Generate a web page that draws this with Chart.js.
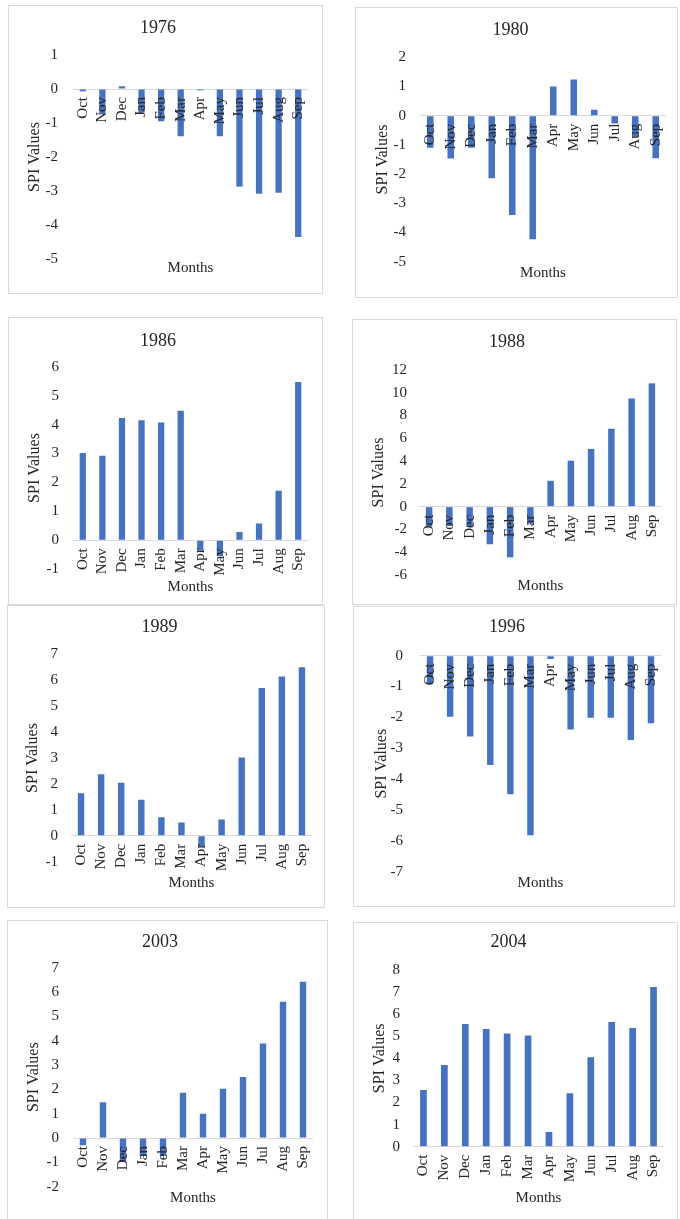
<!DOCTYPE html>
<html>
<head>
<meta charset="utf-8">
<script src="https://cdn.jsdelivr.net/npm/chart.js@4"></script>
<style>
  html, body { margin: 0; padding: 0; background: #fff; overflow: hidden; }
  body { width: 680px; height: 1219px; position: relative; }
  .box { position: absolute; border: 1px solid #d9d9d9; box-sizing: border-box; pointer-events: none; }
  canvas { position: absolute; }
</style>
</head>
<body>
<script>
const months = ['Oct', 'Nov', 'Dec', 'Jan', 'Feb', 'Mar', 'Apr', 'May', 'Jun', 'Jul', 'Aug', 'Sep'];
const years = ['1976', '1980', '1986', '1988', '1989', '1996', '2003', '2004'];

const spi1976 = [-0.07, -0.72, 0.08, -0.7, -0.95, -1.39, -0.04, -1.39, -2.87, -3.08, -3.05, -4.35];
const spi1980 = [-1.1, -1.47, -1.1, -2.14, -3.4, -4.23, 1.0, 1.24, 0.2, -0.27, -0.72, -1.46];
const spi1986 = [3.02, 2.92, 4.23, 4.15, 4.07, 4.48, -0.35, -0.55, 0.29, 0.58, 1.71, 5.47];
const spi1988 = [-1.75, -1.7, -1.8, -3.3, -4.45, -1.5, 2.27, 4.04, 5.07, 6.84, 9.5, 10.83];
const spi1989 = [1.64, 2.37, 2.05, 1.39, 0.71, 0.51, -0.41, 0.63, 3.02, 5.7, 6.14, 6.5];
const spi1996 = [-0.9, -1.98, -2.62, -3.54, -4.49, -5.82, -0.11, -2.39, -2.01, -2.01, -2.73, -2.19];
const spi2003 = [-0.3, 1.47, -0.99, -0.74, -0.74, 1.86, 1.0, 2.03, 2.51, 3.88, 5.6, 6.42];
const spi2004 = [2.57, 3.7, 5.55, 5.33, 5.13, 5.04, 0.66, 2.42, 4.05, 5.65, 5.37, 7.23];
const series = [spi1976, spi1980, spi1986, spi1988, spi1989, spi1996, spi2003, spi2004];

// y axis ticks per panel
const yMin = [-5, -5, -1, -6, -1, -7, -2, 0];
const yMax = [1, 2, 6, 12, 7, 0, 7, 8];
const yStep = [1, 1, 1, 2, 1, 1, 1, 1];

// page positions of each panel: box, plot area, and where the texts sit
const frames = [
  { box: [8, 5, 323, 294], plot: [73, 55, 308, 259], title: 28, tickRight: 58, spiX: 35, monthsY: 268 },
  { box: [355, 7, 678, 298], plot: [420, 57.3, 666, 261.7], title: 30, tickRight: 406, spiX: 383, monthsY: 273 },
  { box: [8, 317, 323, 605], plot: [73, 366.7, 308, 569.3], title: 341, tickRight: 59, spiX: 35, monthsY: 587 },
  { box: [352, 319, 677, 605], plot: [419, 370, 662, 575], title: 342, tickRight: 407, spiX: 379, monthsY: 586 },
  { box: [7, 605, 325, 908], plot: [71, 654.3, 312, 861.7], title: 627, tickRight: 58, spiX: 33, monthsY: 883 },
  { box: [353, 606, 675, 907], plot: [420, 655.7, 661, 871.7], title: 627, tickRight: 403, spiX: 382, monthsY: 883 },
  { box: [7, 920, 328, 1225], plot: [73, 967.7, 313, 1186.7], title: 942, tickRight: 59, spiX: 34, monthsY: 1198 },
  { box: [353, 922, 678, 1225], plot: [413, 970, 664, 1146.7], title: 942, tickRight: 400, spiX: 380, monthsY: 1198 },
];

const serif = 'Liberation Serif';
const textColor = '#262626';
const titleSize = 18, axisTitleSize = 16, monthsSize = 15, tickSize = 15, labelSize = 15;

// month names sit next to the zero line, like the Excel original
const monthLabels = {
  id: 'monthLabels',
  afterDatasetsDraw(chart) {
    const { ctx, scales: { x, y } } = chart;
    const y0 = y.getPixelForValue(0);
    ctx.save();
    ctx.font = labelSize + 'px "' + serif + '"';
    ctx.fillStyle = textColor;
    ctx.textAlign = 'right';
    ctx.textBaseline = 'middle';
    chart.data.labels.forEach((lab, i) => {
      ctx.save();
      ctx.translate(x.getPixelForValue(i), y0 + 8);
      ctx.rotate(-Math.PI / 2);
      ctx.fillText(lab, 0, 0);
      ctx.restore();
    });
    ctx.restore();
  }
};

frames.forEach((f, i) => {
  const [bl, bt, br, bb] = f.box;
  const [pl, pt, pr, pb] = f.plot;
  const w = br - bl, h = bb - bt;

  const border = document.createElement('div');
  border.className = 'box';
  Object.assign(border.style, { left: bl + 'px', top: bt + 'px', width: w + 'px', height: h + 'px' });

  const canvas = document.createElement('canvas');
  canvas.width = w;
  canvas.height = h;
  Object.assign(canvas.style, { left: bl + 'px', top: bt + 'px', width: w + 'px', height: h + 'px' });
  document.body.appendChild(canvas);
  document.body.appendChild(border);

  const titleLH = titleSize * 1.2;
  const titlePadTop = (f.title - bt) - titleLH / 2;
  const titlePadBottom = (pt - bt) - titlePadTop - titleLH;

  new Chart(canvas.getContext('2d'), {
    type: 'bar',
    data: {
      labels: months,
      datasets: [{
        data: series[i],
        backgroundColor: '#4472C4',
        barPercentage: 0.32,
        categoryPercentage: 1.0,
      }],
    },
    options: {
      responsive: false,
      animation: false,
      devicePixelRatio: 1,
      layout: { padding: { left: 0, top: 0, bottom: 0, right: br - pr } },
      plugins: {
        legend: { display: false },
        tooltip: { enabled: false },
        title: {
          display: true,
          text: years[i],
          color: textColor,
          font: { family: serif, size: titleSize, weight: 'normal', lineHeight: 1.2 },
          padding: { top: titlePadTop, bottom: titlePadBottom },
        },
      },
      scales: {
        x: {
          grid: { display: false },
          border: { display: false },
          ticks: { display: false },
          title: {
            display: true,
            text: 'Months',
            color: textColor,
            font: { family: serif, size: monthsSize, lineHeight: 1.2 },
            padding: { top: 0, bottom: (bb - f.monthsY) - monthsSize * 0.6 },
          },
          afterFit(scale) { scale.height = bb - pb; },
        },
        y: {
          min: yMin[i],
          max: yMax[i],
          grid: {
            drawTicks: false,
            color: (c) => (c.tick && c.tick.value === 0 ? '#d9d9d9' : 'rgba(0,0,0,0)'),
          },
          border: { display: false },
          ticks: {
            stepSize: yStep[i],
            color: textColor,
            padding: pl - f.tickRight,
            font: { family: serif, size: tickSize },
          },
          title: {
            display: true,
            text: 'SPI Values',
            color: textColor,
            font: { family: serif, size: axisTitleSize, lineHeight: 1.2 },
            padding: { top: (f.spiX - bl) - axisTitleSize * 0.6, bottom: 0 },
          },
          afterFit(scale) { scale.width = pl - bl; },
        },
      },
    },
    plugins: [monthLabels],
  });
});
</script>
</body>
</html>
